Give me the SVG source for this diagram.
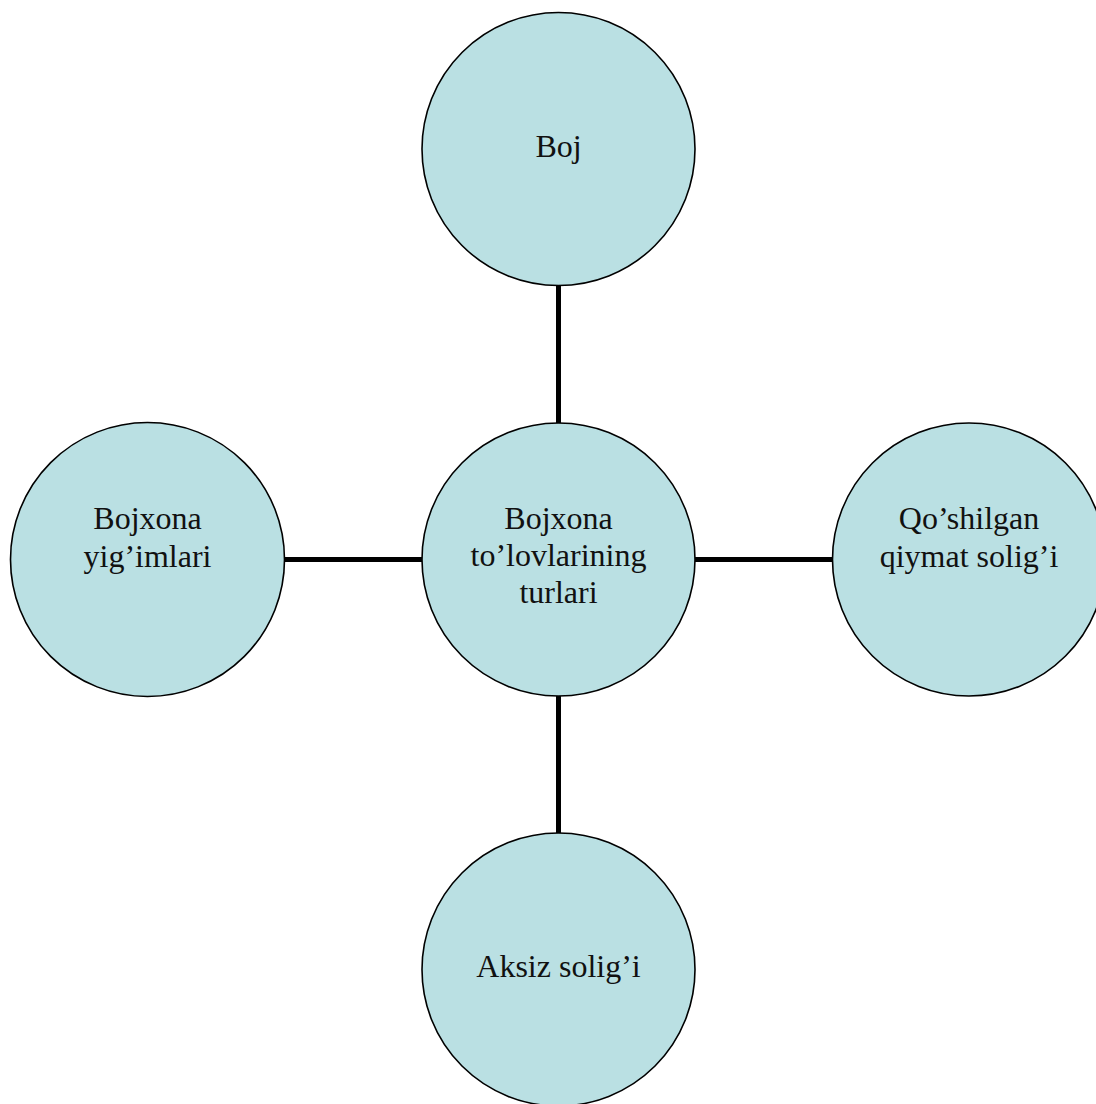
<svg xmlns="http://www.w3.org/2000/svg" width="1096" height="1104" viewBox="0 0 1096 1104">
  <style>
    .node { fill: #bae0e3; stroke: #000; stroke-width: 1.6; }
    .label { font-family: "Liberation Serif", "Times New Roman", serif; font-size: 32px; fill: #111; text-anchor: middle; }
    .link { stroke: #000; stroke-width: 5; fill: none; }
  </style>
  <rect width="1096" height="1104" fill="#fff"/>
  <g id="connectors">
    <line class="link" x1="558.5" y1="286" x2="558.5" y2="423"/>
    <line class="link" x1="558.5" y1="696" x2="558.5" y2="833"/>
    <line class="link" x1="285" y1="559.5" x2="422" y2="559.5"/>
    <line class="link" x1="695" y1="559.5" x2="832" y2="559.5"/>
  </g>
  <g id="node-center">
    <circle class="node" cx="558.5" cy="559.5" r="136.5"/>
    <text class="label" x="558.5" y="529">Bojxona</text>
    <text class="label" x="558.5" y="566">to’lovlarining</text>
    <text class="label" x="558.5" y="603">turlari</text>
  </g>
  <g id="node-boj">
    <circle class="node" cx="558.5" cy="149" r="136.5"/>
    <text class="label" x="558.5" y="157">Boj</text>
  </g>
  <g id="node-yigim">
    <circle class="node" cx="147.5" cy="559.5" r="137"/>
    <text class="label" x="147.5" y="529">Bojxona</text>
    <text class="label" x="147.5" y="567">yig’imlari</text>
  </g>
  <g id="node-qqs">
    <circle class="node" cx="969" cy="559.5" r="136.5"/>
    <text class="label" x="969" y="529">Qo’shilgan</text>
    <text class="label" x="969" y="567">qiymat solig’i</text>
  </g>
  <g id="node-aksiz">
    <circle class="node" cx="558.5" cy="969.5" r="136.5"/>
    <text class="label" x="558.5" y="977">Aksiz solig’i</text>
  </g>
</svg>
